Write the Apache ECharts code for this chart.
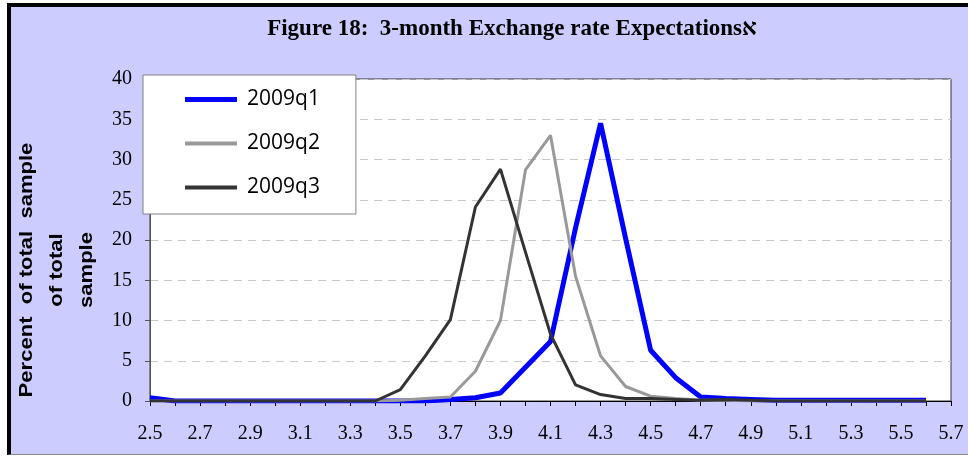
<!DOCTYPE html>
<html>
<head>
<meta charset="utf-8">
<script src="https://cdn.jsdelivr.net/npm/echarts@6/dist/echarts.min.js"></script>
<style>
  html, body { margin: 0; padding: 0; background: #fff; }
  #frame {
    position: absolute; left: 7px; top: 3px; width: 961px; height: 452px;
    background: #CCCCFF; border-left: 4px solid #000; border-top: 4px solid #000;
    border-bottom: 1px solid #888; box-sizing: border-box;
  }
  #chart { position: absolute; left: 0; top: 0; width: 968px; height: 458px; }
</style>
</head>
<body>
<div id="frame"></div>
<div id="chart"></div>
<script>
// Exchange-rate buckets (x axis)
const categories = ['2.5','2.6','2.7','2.8','2.9','3.0','3.1','3.2','3.3','3.4','3.5','3.6','3.7','3.8',
  '3.9','4.0','4.1','4.2','4.3','4.4','4.5','4.6','4.7','4.8','4.9','5.0','5.1','5.2','5.3','5.4','5.5','5.6','5.7'];

// Percent of total sample per bucket
const q1Values = [0.4,0,0,0,0,0,0,0,0,0,0,0,0.2,0.4,1.0,4.2,7.4,21.5,34.5,20.2,6.3,2.9,0.5,0.3,0.2,0.1,0.1,0.1,0.1,0.1,0.1,0.1,null];
const q2Values = [0,0,0,0,0,0,0,0,0,0,0.1,0.3,0.5,3.7,10.0,28.7,33.0,15.5,5.6,1.8,0.6,0.3,0.1,0.1,0,0,0,0,0,0,0,0,null];
const q3Values = [0,0,0,0,0,0,0,0,0,0,1.4,5.6,10.1,24.1,28.8,18.5,8.3,2.0,0.8,0.3,0.3,0.2,0.1,0.2,0.1,0,0,0,0,0,0,0,null];

const seriesNames = ['2009q1', '2009q2', '2009q3'];
const yTicks = { min: 0, max: 40, step: 5 };

const titleText = 'Figure 18:  3-month Exchange rate Expectationsא';
const yTitleText = 'Percent  of total  sample\nof total\nsample';

const serif = '"Liberation Serif", "Times New Roman", "DejaVu Serif", serif';

const chart = echarts.init(document.getElementById('chart'), null, { renderer: 'canvas' });

chart.setOption({
  backgroundColor: 'transparent',
  animation: false,
  graphic: [
    {
      type: 'text', x: 512, y: 29,
      style: {
        text: titleText, fill: '#000', align: 'center', verticalAlign: 'middle',
        font: 'bold 23px ' + serif
      }
    },
    {
      type: 'text', x: 57, y: 270, rotation: Math.PI / 2, scaleX: 1.16,
      style: {
        text: yTitleText, fill: '#000', align: 'center', verticalAlign: 'middle',
        lineHeight: 30, font: 'bold 19px "Liberation Sans", Arial, sans-serif'
      }
    }
  ],
  grid: {
    left: 150, right: 17, top: 79, bottom: 57,
    show: true, backgroundColor: '#fff', borderColor: '#333', borderWidth: 1
  },
  legend: {
    orient: 'vertical', left: 143, top: 75,
    padding: [14, 36, 16, 42], itemGap: 23, itemWidth: 52, itemHeight: 14,
    backgroundColor: '#fff', borderColor: '#808080', borderWidth: 1,
    textStyle: {
      fontFamily: '"Open Sans", sans-serif', fontSize: 21,
      color: '#000', padding: [0, 0, 0, 5]
    },
    data: [
      { name: seriesNames[0], icon: 'path://M0,0h52v5h-52z' },
      { name: seriesNames[1], icon: 'path://M0,0h52v4h-52z' },
      { name: seriesNames[2], icon: 'path://M0,0h52v4h-52z' }
    ]
  },
  xAxis: {
    type: 'category', data: categories, boundaryGap: false,
    axisLine: { lineStyle: { color: '#000', width: 1 } },
    axisTick: { interval: 0, length: 5, lineStyle: { color: '#000' } },
    axisLabel: {
      interval: 1, margin: 23, fontFamily: serif, fontSize: 20, color: '#000',
      showMinLabel: true, showMaxLabel: true
    },
    splitLine: { show: false }
  },
  yAxis: {
    type: 'value', min: yTicks.min, max: yTicks.max, interval: yTicks.step,
    axisLine: { show: true, lineStyle: { color: '#555' } },
    axisTick: { show: true, length: 5, lineStyle: { color: '#555' } },
    axisLabel: { margin: 18, fontFamily: serif, fontSize: 20, color: '#000' },
    splitLine: { lineStyle: { color: '#c8c8c8', type: [8, 6] } }
  },
  series: [
    { name: seriesNames[0], type: 'line', data: q1Values, symbol: 'none', color: '#0000FF',
      lineStyle: { width: 5, color: '#0000FF' } },
    { name: seriesNames[1], type: 'line', data: q2Values, symbol: 'none', color: '#999999',
      lineStyle: { width: 3, color: '#999999' } },
    { name: seriesNames[2], type: 'line', data: q3Values, symbol: 'none', color: '#333333',
      lineStyle: { width: 3, color: '#333333' } }
  ]
});
</script>
</body>
</html>
